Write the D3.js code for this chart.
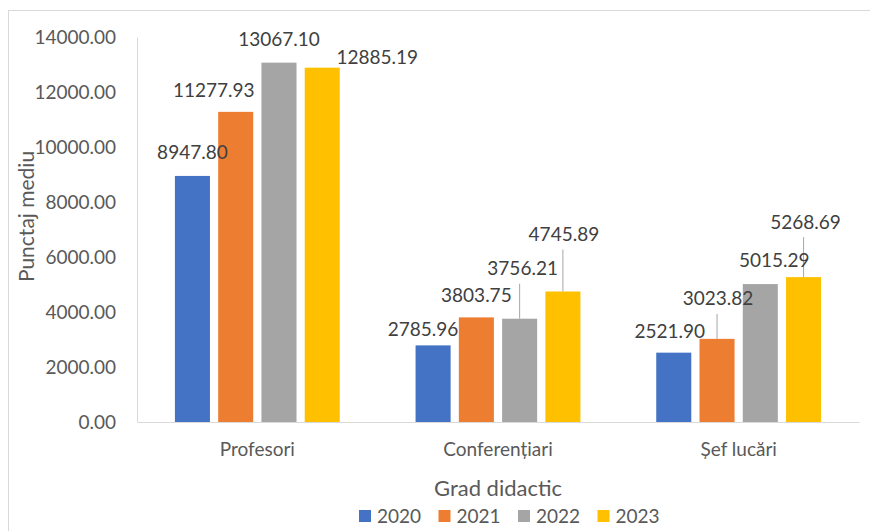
<!DOCTYPE html>
<html>
<head>
<meta charset="utf-8">
<script src="https://cdn.jsdelivr.net/npm/d3@7"></script>
<style>
  body { margin: 0; background: #fff; }
  svg text { font-family: Lato, "Open Sans", sans-serif; }
</style>
</head>
<body>
<svg id="chart"></svg>
<script>
// chart data
const categories = ["Profesori", "Conferențiari", "Șef lucări"];
const years = ["2020", "2021", "2022", "2023"];
const v2020 = [8947.80, 2785.96, 2521.90];
const v2021 = [11277.93, 3803.75, 3023.82];
const v2022 = [13067.10, 3756.21, 5015.29];
const v2023 = [12885.19, 4745.89, 5268.69];
const yTicks = [0, 2000, 4000, 6000, 8000, 10000, 12000, 14000];

const colors = ["#4472C4", "#ED7D31", "#A5A5A5", "#FFC000"];

// manual label nudges (dx, dy from bar top), like the moved labels in the source
const labelNudge = [
  [[0, -24], [-10, -16], [-4, -21]],
  [[-22, -22], [0, -22], [1, -40]],
  [[0, -23], [3, -50], [14, -24]],
  [[55, -10], [1, -57], [2, -55]]
];

const series = [v2020, v2021, v2022, v2023];

const width = 870, height = 531;
const margin = { left: 137, right: 11, top: 37, bottom: 109 };

const svg = d3.select("#chart")
    .attr("width", width)
    .attr("height", height);

// outer frame
svg.append("rect")
    .attr("x", 8.5).attr("y", 10.5)
    .attr("width", 880).attr("height", 540)
    .attr("fill", "none")
    .attr("stroke", "#d9d9d9");

const x0 = d3.scaleBand()
    .domain(categories)
    .range([margin.left, width - margin.right])
    .paddingInner(0)
    .paddingOuter(0);

const groupW = x0.bandwidth() * 0.685;
const x1 = d3.scaleBand()
    .domain(years)
    .range([0, groupW])
    .paddingInner(0.19);

const y = d3.scaleLinear()
    .domain([0, 14000])
    .range([height - margin.bottom, margin.top]);

// y axis
const yAxis = svg.append("g")
    .attr("transform", `translate(${margin.left},0)`)
    .call(d3.axisLeft(y).tickValues(yTicks).tickSize(0).tickPadding(21)
      .tickFormat(d => d3.format(".2f")(d)));
yAxis.select(".domain").attr("stroke", "#d9d9d9");
yAxis.selectAll("text")
    .attr("fill", "#595959")
    .style("font-size", "19px");

// bars
const groups = svg.append("g").selectAll("g")
    .data(series)
    .join("g")
    .attr("fill", (d, i) => colors[i]);

groups.selectAll("rect")
    .data((d, i) => d.map((v, j) => ({ v, i, j })))
    .join("rect")
    .attr("x", d => x0(categories[d.j]) + (x0.bandwidth() - groupW) / 2 + x1(years[d.i]))
    .attr("y", d => y(d.v))
    .attr("width", x1.bandwidth())
    .attr("height", d => y(0) - y(d.v));

// x axis
const xAxis = svg.append("g")
    .attr("transform", `translate(0,${y(0)})`)
    .call(d3.axisBottom(x0).tickSize(0).tickPadding(21));
xAxis.select(".domain").attr("stroke", "#d9d9d9");
xAxis.selectAll("text")
    .attr("fill", "#595959")
    .style("font-size", "19px");

// data labels with leader lines
const labels = [];
series.forEach((s, i) => s.forEach((v, j) => {
  const cx = x0(categories[j]) + (x0.bandwidth() - groupW) / 2 + x1(years[i]) + x1.bandwidth() / 2;
  const [dx, dy] = labelNudge[i][j];
  labels.push({ v, cx, top: y(v), lx: cx + dx, ly: y(v) + dy, dy });
}));

svg.append("g").selectAll("line")
    .data(labels.filter(d => d.dy < -35))
    .join("line")
    .attr("x1", d => d.cx).attr("x2", d => d.cx)
    .attr("y1", d => d.ly + 15).attr("y2", d => d.top)
    .attr("stroke", "#a6a6a6");

svg.append("g").selectAll("text")
    .data(labels)
    .join("text")
    .attr("x", d => d.lx)
    .attr("y", d => d.ly)
    .attr("dy", "0.35em")
    .attr("text-anchor", "middle")
    .attr("fill", "#404040")
    .style("font-size", "19px")
    .text(d => d3.format(".2f")(d.v));

// axis titles
svg.append("text")
    .attr("transform", `translate(27,${(y(0) + y(14000)) / 2 - 13}) rotate(-90)`)
    .attr("text-anchor", "middle")
    .attr("dy", "0.35em")
    .attr("fill", "#595959")
    .style("font-size", "21px")
    .text("Punctaj mediu");

svg.append("text")
    .attr("x", 498)
    .attr("y", 488)
    .attr("dy", "0.35em")
    .attr("text-anchor", "middle")
    .attr("fill", "#595959")
    .style("font-size", "22px")
    .text("Grad didactic");

// legend
const legend = svg.append("g")
    .attr("transform", "translate(359,516)")
    .selectAll("g")
    .data(years)
    .join("g")
    .attr("transform", (d, i) => `translate(${i * 79.5},0)`);
legend.append("rect")
    .attr("x", 0).attr("y", -6)
    .attr("width", 12).attr("height", 12)
    .attr("fill", (d, i) => colors[i]);
legend.append("text")
    .attr("x", 18)
    .attr("dy", "0.35em")
    .attr("fill", "#595959")
    .style("font-size", "19px")
    .text(d => d);
</script>
</body>
</html>
